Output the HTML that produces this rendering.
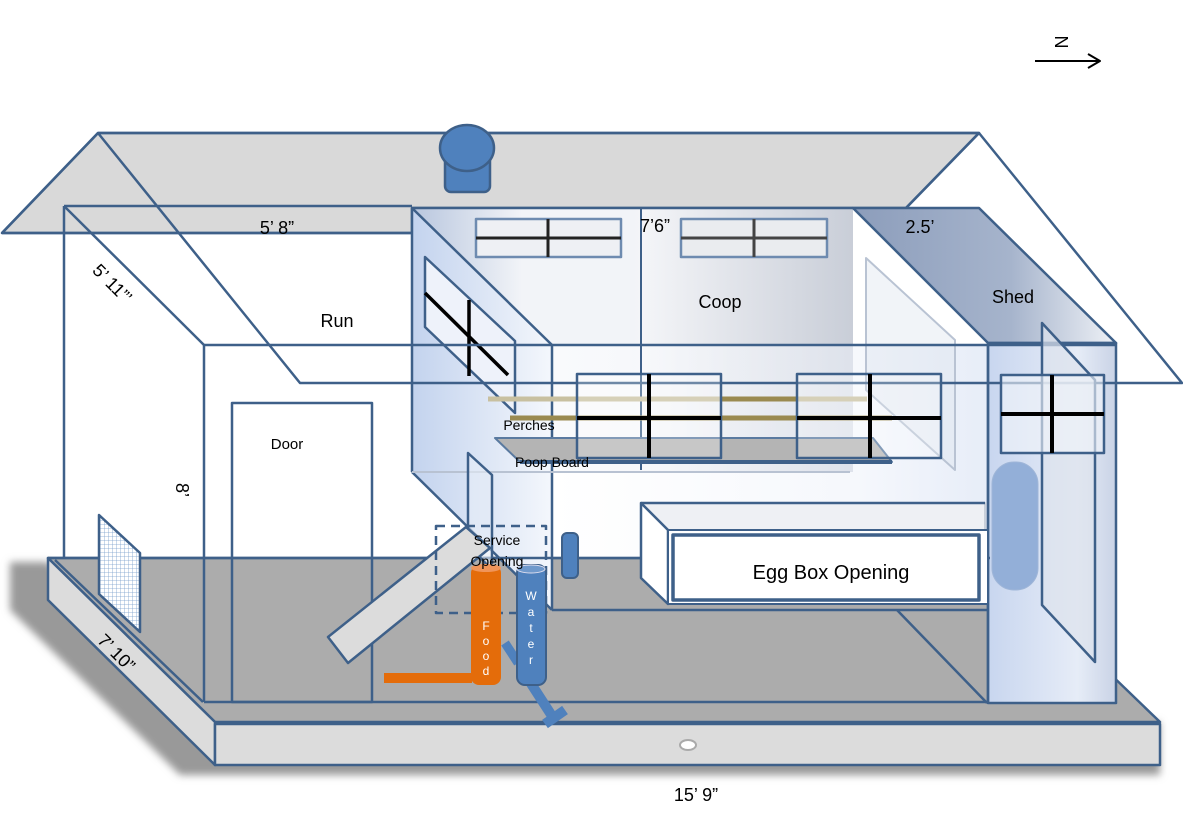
<!DOCTYPE html>
<html><head><meta charset="utf-8"><style>
html,body{margin:0;padding:0;background:#fff;}
svg{display:block;font-family:"Liberation Sans",sans-serif;}
</style></head><body>
<svg width="1183" height="821" viewBox="0 0 1183 821" xmlns="http://www.w3.org/2000/svg">
<defs>
<linearGradient id="wall" x1="0" x2="1" y1="0" y2="0"><stop offset="0" stop-color="#c3d3ee"/><stop offset="1" stop-color="#f4f7fc"/></linearGradient>
<linearGradient id="back" x1="0" x2="1" y1="0" y2="0"><stop offset="0" stop-color="#b8c6de"/><stop offset="0.25" stop-color="#f2f4f8"/><stop offset="0.5" stop-color="#f2f4f8"/><stop offset="0.52" stop-color="#f4f5f8"/><stop offset="1" stop-color="#c9ced8"/></linearGradient>
<linearGradient id="front" x1="0" x2="1" y1="0" y2="0"><stop offset="0" stop-color="#ffffff"/><stop offset="0.7" stop-color="#eef2fa"/><stop offset="1" stop-color="#d3def2"/></linearGradient>
<linearGradient id="shedroof" x1="0" x2="1" y1="0" y2="0"><stop offset="0" stop-color="#8c9dbb"/><stop offset="0.6" stop-color="#a6b4cc"/><stop offset="1" stop-color="#eef1f6"/></linearGradient>
<linearGradient id="shed" x1="0" x2="1" y1="0" y2="0"><stop offset="0" stop-color="#c8d6ef"/><stop offset="0.7" stop-color="#e6ecf7"/><stop offset="1" stop-color="#c9d3e6"/></linearGradient>
<pattern id="mesh" width="4" height="4" patternUnits="userSpaceOnUse"><rect width="4" height="4" fill="#fff"/><path d="M0 0H4M0 0V4" stroke="#7aa0cc" stroke-width="0.8"/></pattern>
<filter id="blur"><feGaussianBlur stdDeviation="4"/></filter>
</defs>
<g stroke="#3e6089" stroke-width="2.5" fill="none" stroke-linejoin="round">
<polygon points="98,133 979,133 906,208 412,208 412,233 2,233" fill="#d9d9d9"/>
<polygon points="10,562 48,562 215,722 1160,722 1160,775 180,775 10,610" fill="#999" stroke="none" filter="url(#blur)"/>
<polygon points="48,558 990,558 1160,722 215,722" fill="#acacac"/>
<polygon points="48,558 215,722 215,765 48,600" fill="#dcdcdc"/>
<rect x="215" y="724" width="945" height="41" fill="#dcdcdc"/>
<ellipse cx="688" cy="745" rx="8" ry="5" fill="#fff" stroke="#aaa" stroke-width="2"/>
<rect x="412" y="208" width="441" height="264" fill="url(#back)" stroke="none"/>
<rect x="552" y="345" width="436" height="213" fill="url(#front)" stroke="none" opacity="0.55"/>
<polygon points="853,208 979,208 1116,343 988,343" fill="url(#shedroof)"/>
<rect x="988" y="343" width="128" height="360" fill="url(#shed)"/>
<polygon points="412,208 552,345 552,610 412,472" fill="url(#wall)" stroke="none"/>
<line x1="412" y1="208" x2="552" y2="345"/>
<line x1="412" y1="208" x2="412" y2="472"/>
<line x1="412" y1="472" x2="552" y2="610" />
<line x1="552" y1="345" x2="552" y2="610"/>
<line x1="552" y1="610" x2="988" y2="610"/>
<line x1="897" y1="610" x2="987" y2="703"/>
<line x1="988" y1="345" x2="988" y2="703"/>
<line x1="412" y1="208" x2="853" y2="208"/>
<line x1="641" y1="208" x2="641" y2="470" stroke-width="2"/>
<line x1="412" y1="472" x2="850" y2="472" stroke="#b8c2d2" stroke-width="2"/>
<polygon points="866,258 955,340 955,470 866,390" fill="#dde4ee" fill-opacity="0.4" stroke="#b9c3d3" stroke-width="2"/>
<rect x="476" y="219" width="145" height="38" fill="#eef0f4" stroke="#6e8bb0"/>
<line x1="476" y1="238" x2="621" y2="238" stroke="#222" stroke-width="3"/>
<line x1="548" y1="219" x2="548" y2="257" stroke="#222" stroke-width="3"/>
<rect x="681" y="219" width="146" height="38" fill="#eaecef" stroke="#6e8bb0"/>
<line x1="681" y1="238" x2="827" y2="238" stroke="#444" stroke-width="3"/>
<line x1="754" y1="219" x2="754" y2="257" stroke="#444" stroke-width="3"/>
<polygon points="425,257 515,341 515,413 425,327" fill="#eef2fa"/>
<line x1="425" y1="293" x2="508" y2="375" stroke="#000" stroke-width="3.5"/>
<line x1="469" y1="300" x2="469" y2="376" stroke="#000" stroke-width="3.5"/>
<line x1="64" y1="206" x2="412" y2="206"/>
<line x1="64" y1="206" x2="64" y2="558"/>
<line x1="64" y1="206" x2="204" y2="345"/>
<line x1="204" y1="345" x2="1117" y2="345"/>
<line x1="204" y1="345" x2="204" y2="702"/>
<line x1="204" y1="702" x2="988" y2="702"/>
<line x1="55" y1="560" x2="203" y2="702"/>
<line x1="48" y1="558" x2="990" y2="558"/>
<polyline points="2,233 98,133 979,133 1182,383 300,383 98,133"/>
<line x1="979" y1="133" x2="906" y2="208"/>
<line x1="2" y1="233" x2="412" y2="233"/>
<rect x="445" y="150" width="45" height="42" rx="6" fill="#4f81bd"/>
<ellipse cx="467" cy="148" rx="27" ry="23" fill="#4f81bd"/>
<line x1="488" y1="399" x2="867" y2="399" stroke="#c8c0a0" stroke-width="5"/>
<line x1="722" y1="399" x2="797" y2="399" stroke="#9a8a50" stroke-width="5"/>
<line x1="510" y1="418" x2="892" y2="418" stroke="#9a8a50" stroke-width="5"/>
<polygon points="495,438 873,438 892,462 520,462" fill="#b4b4b4" stroke="#5a7aa0" stroke-width="2"/>
<line x1="520" y1="462" x2="892" y2="462" stroke="#3e6089" stroke-width="4"/>
<rect x="577" y="374" width="144" height="84" fill="#fff" fill-opacity="0.25"/>
<line x1="577" y1="418" x2="721" y2="418" stroke="#000" stroke-width="4"/>
<line x1="649" y1="374" x2="649" y2="458" stroke="#000" stroke-width="4"/>
<rect x="797" y="374" width="144" height="84" fill="#fff" fill-opacity="0.25"/>
<line x1="797" y1="418" x2="941" y2="418" stroke="#000" stroke-width="4"/>
<line x1="870" y1="374" x2="870" y2="458" stroke="#000" stroke-width="4"/>
<polygon points="1042,323 1095,380 1095,662 1042,605" fill="#dde3ec" fill-opacity="0.7"/>
<rect x="992" y="462" width="46" height="128" rx="22" fill="#93afd8" stroke="#9fb6d8" stroke-width="1"/>
<rect x="1001" y="375" width="103" height="78" fill="#f2f5fa" fill-opacity="0.6"/>
<line x1="1001" y1="414" x2="1104" y2="414" stroke="#000" stroke-width="4"/>
<line x1="1052" y1="375" x2="1052" y2="453" stroke="#000" stroke-width="4"/>
<polygon points="641,503 985,503 985,530 668,530" fill="#eef0f4" stroke="#c9d0da" stroke-width="2"/>
<polygon points="641,503 668,530 668,604 641,578" fill="#fff"/>
<line x1="641" y1="503" x2="985" y2="503" />
<rect x="668" y="530" width="320" height="74" fill="#fff" stroke-width="2"/>
<rect x="673" y="535" width="306" height="65" fill="#fff" stroke-width="3.5"/>
<rect x="232" y="403" width="140" height="299"/>
<polygon points="99,515 140,553 140,632 99,594" fill="url(#mesh)"/>
<polygon points="468,453 492,475 492,570 468,545" fill="#e6ecf6" fill-opacity="0.6"/>
<polygon points="328,637 466,527 490,548 348,663" fill="#dcdcdc"/>
<rect x="436" y="526" width="110" height="87" stroke-dasharray="9,6"/>
<rect x="384" y="673" width="88" height="10" fill="#e46c0a" stroke="none"/>
<rect x="471" y="565" width="30" height="120" rx="8" fill="#e46c0a" stroke="none"/>
<ellipse cx="486" cy="568" rx="15" ry="4" fill="#f0955a" stroke="none"/>
<line x1="505" y1="643" x2="518" y2="663" stroke="#4f81bd" stroke-width="9"/>
<line x1="530" y1="682" x2="552" y2="716" stroke="#4f81bd" stroke-width="10" stroke-linecap="butt"/>
<line x1="545" y1="724" x2="565" y2="710" stroke="#4f81bd" stroke-width="10"/>
<rect x="517" y="565" width="29" height="120" rx="8" fill="#4f81bd" stroke="#3e6089" stroke-width="2"/>
<ellipse cx="531" cy="569" rx="14" ry="4" fill="#6f99cc" stroke="#dde" stroke-width="1"/>
<rect x="562" y="533" width="16" height="45" rx="5" fill="#4f81bd" stroke-width="2"/>
<line x1="1035" y1="61" x2="1098" y2="61" stroke="#000" stroke-width="2"/>
<polyline points="1088,54 1100,61 1088,68" stroke="#000" stroke-width="2"/>
</g>
<g fill="#000" font-size="18">
<text x="277" y="234" text-anchor="middle">5’ 8”</text>
<text x="655" y="232" text-anchor="middle">7’6”</text>
<text x="920" y="233" text-anchor="middle">2.5’</text>
<text x="720" y="308" text-anchor="middle">Coop</text>
<text x="1013" y="303" text-anchor="middle">Shed</text>
<text x="337" y="327" text-anchor="middle">Run</text>
<text x="287" y="449" text-anchor="middle" font-size="15">Door</text>
<text x="529" y="430" text-anchor="middle" font-size="14">Perches</text>
<text x="552" y="467" text-anchor="middle" font-size="14">Poop Board</text>
<text x="497" y="545" text-anchor="middle" font-size="14">Service</text>
<text x="497" y="566" text-anchor="middle" font-size="14">Opening</text>
<text x="831" y="579" text-anchor="middle" font-size="20">Egg Box Opening</text>
<text x="696" y="801" text-anchor="middle">15’ 9”</text>
<text transform="translate(108,288) rotate(45)" text-anchor="middle">5’ 11”’</text>
<text transform="translate(112,657) rotate(45)" text-anchor="middle">7’ 10”</text>
<text transform="translate(176,490) rotate(90)" text-anchor="middle">8’</text>
<text transform="translate(1055,42) rotate(90)" text-anchor="middle" font-size="18">N</text>
<g fill="#fff" font-size="12" text-anchor="middle">
<text x="486" y="630">F</text><text x="486" y="645">o</text><text x="486" y="660">o</text><text x="486" y="675">d</text>
<text x="531" y="600">W</text><text x="531" y="616">a</text><text x="531" y="632">t</text><text x="531" y="648">e</text><text x="531" y="664">r</text>
</g>
</g>
</svg>
</body></html>
